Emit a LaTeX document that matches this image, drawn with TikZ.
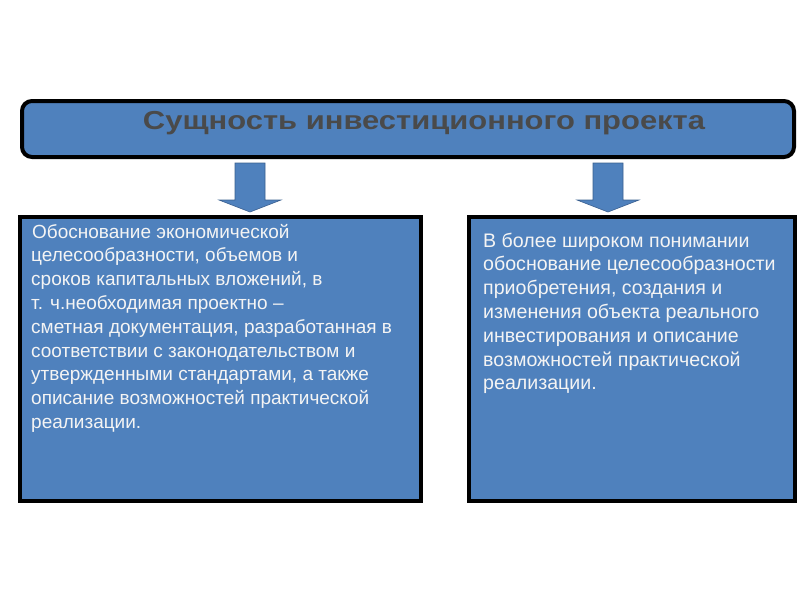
\documentclass[tikz,border=0pt]{standalone}
\usepackage{fontspec}
\setmainfont{Liberation Sans}
\usetikzlibrary{calc}
\definecolor{boxblue}{HTML}{4F81BD}
\definecolor{titlegray}{HTML}{4A4A4A}
\definecolor{txtwhite}{HTML}{F4F4F4}
\definecolor{arrowedge}{HTML}{3A5F8F}
\newcommand{\bodypar}[2]{\parbox[t]{#1}{\raggedright\fontsize{19}{23.8}\selectfont #2}}
\begin{document}
\begin{tikzpicture}[x=1pt,y=-1pt,
  panel/.style={draw=black, line width=4pt, fill=boxblue},
  bodytext/.style={anchor=base west, text=txtwhite, inner sep=0pt},
  downarrow/.style={fill=boxblue, draw=arrowedge, line width=0.6pt}]
\useasboundingbox (0,0) rectangle (800,600);
% title
\draw[panel, rounded corners=10pt] (22,101) rectangle (794,157);
\node[text=titlegray, font=\bfseries\fontsize{26}{30}\selectfont, inner sep=0pt, anchor=base] (title) at (424,129) {\scalebox{1.19}[1]{Сущность инвестиционного проекта}};
% boxes
\draw[panel] (20,217) rectangle (421,501);
\draw[panel] (469,217) rectangle (795,501);
\coordinate (L) at (250,163);
\coordinate (R) at (608,163);
% arrows
\foreach \c in {L,R}{
  \draw[downarrow] ($(\c)+(-15,0)$) -- ($(\c)+(15,0)$) -- ($(\c)+(15,37)$) -- ($(\c)+(31,37)$)
     -- ($(\c)+(0,49)$) -- ($(\c)+(-31,37)$) -- ($(\c)+(-15,37)$) -- cycle;
}
\node[bodytext] (lefttext) at (31,238) {\bodypar{390pt}{\hspace{1pt}Обоснование экономической\\
целесообразности, объемов и\\
сроков капитальных вложений, в\\
т. ч.необходимая проектно –\\
сметная документация, разработанная в\\
соответствии с законодательством и\\
утвержденными стандартами, а также\\
описание возможностей практической\\
реализации.}};
\node[bodytext] (righttext) at (483,247) {\bodypar{310pt}{\fontsize{19.6}{23.8}\selectfont В более широком понимании\\
обоснование целесообразности\\
приобретения, создания и\\
изменения объекта реального\\
инвестирования и описание\\
возможностей практической\\
реализации.}};
\end{tikzpicture}
\end{document}
